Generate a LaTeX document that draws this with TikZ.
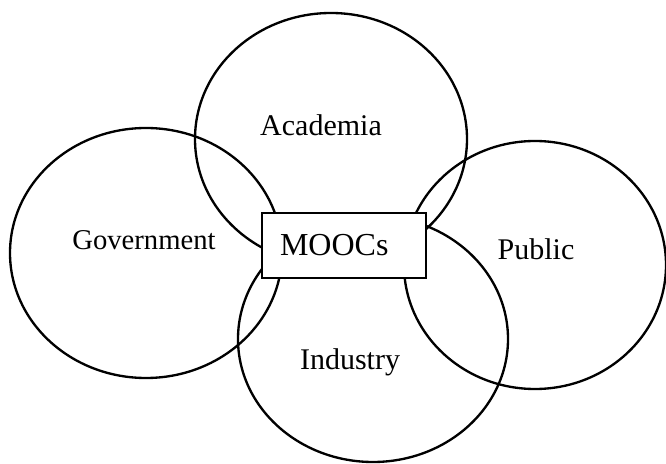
\documentclass[tikz,border=0pt]{standalone}
\usepackage{fontspec}
\setmainfont{Liberation Serif}
\usepackage{tikz}

\begin{document}
\begin{tikzpicture}[
    x=0.75pt,
    y=0.75pt,
    every node/.style={font=\fontsize{22.5}{27}\selectfont},
    ring/.style={line width=1.75pt, draw=black},
    sector/.style={inner sep=0pt},
    hub/.style={draw, line width=0.9pt, fill=white, minimum height=48.75pt,
                text width=96pt, inner xsep=13.5pt, align=left,
                font=\fontsize{24}{28}\selectfont}
]
\useasboundingbox (0,0) rectangle (666,463);

% the four partner circles
\coordinate (academia) at (331, 324);
\coordinate (government) at (146, 210);
\coordinate (public) at (535, 198);
\coordinate (industry) at (373, 124);

\draw[ring] (academia) ellipse [x radius=136, y radius=126];
\draw[ring] (government) ellipse [x radius=136, y radius=125];
\draw[ring] (public) ellipse [x radius=131, y radius=124];
\draw[ring] (industry) ellipse [x radius=135, y radius=123];

\node[sector] (academiaText) at (321, 338) {Academia};
\node[sector, font=\fontsize{21.5}{26}\selectfont] (governmentText) at (144, 223) {Government};
\node[sector] (publicText) at (536, 214) {Public};
\node[sector] (industryText) at (350, 101) {Industry};

% box in the middle
\node[hub] (moocs) at (344, 217.5) {MOOCs};
\end{tikzpicture}
\end{document}
